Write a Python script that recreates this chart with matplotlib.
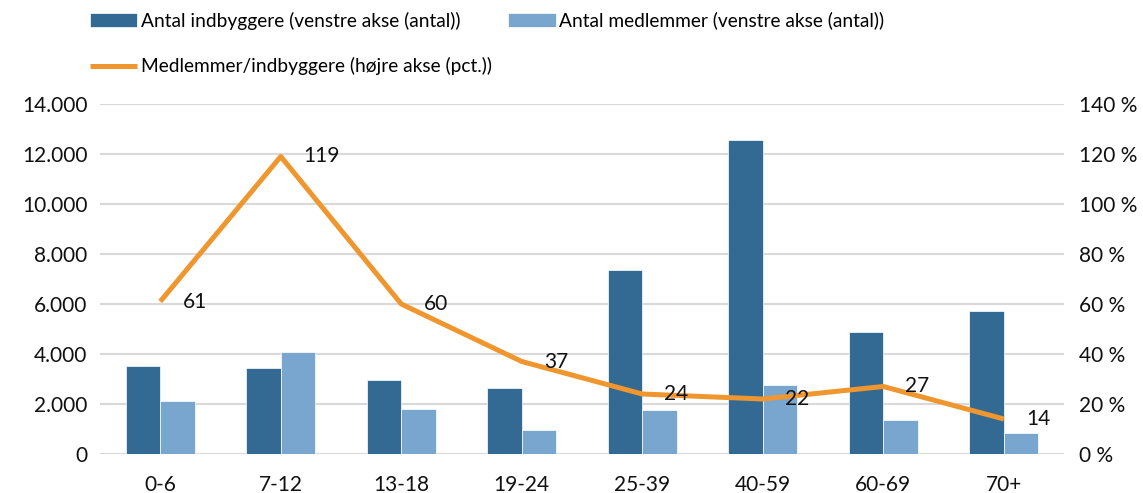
import matplotlib.pyplot as plt
import numpy as np
from matplotlib.ticker import FuncFormatter

plt.rcParams["font.family"] = ["Lato", "DejaVu Sans"]

categories = ["0-6", "7-12", "13-18", "19-24", "25-39", "40-59", "60-69", "70+"]
indbyggere = [3520, 3440, 2960, 2640, 7360, 12560, 4880, 5720]
medlemmer = [2120, 4080, 1800, 960, 1760, 2760, 1360, 840]
andel_pct = [61, 119, 60, 37, 24, 22, 27, 14]

DARK = "#336A93"
LIGHT = "#79A6CF"
ORANGE = "#F0962F"
GRID = "#D9D9D9"
TEXT = "#111111"

fig = plt.figure(figsize=(11.43, 4.93), dpi=100)
ax = fig.add_axes([100 / 1143, 1 - 454 / 493, 964 / 1143, 350 / 493])
ax2 = ax.twinx()

x = np.arange(len(categories))
w = 0.285
b1 = ax.bar(x - w / 2, indbyggere, w, color=DARK, edgecolor="white", linewidth=0.5, zorder=2,
            label="Antal indbyggere (venstre akse (antal))")
b2 = ax.bar(x + w / 2, medlemmer, w, color=LIGHT, edgecolor="white", linewidth=0.5, zorder=2,
            label="Antal medlemmer (venstre akse (antal))")

ax.set_xlim(-0.5, len(categories) - 0.5)
ax.set_ylim(0, 14000)
ax.set_yticks(np.arange(0, 14001, 2000))
ax.yaxis.set_major_formatter(FuncFormatter(lambda v, _: f"{int(v):,}".replace(",", ".")))
ax.set_xticks(x)
ax.set_xticklabels(categories)
ax.grid(axis="y", color=GRID, linewidth=1.5, zorder=0)
ax.set_axisbelow(True)

line, = ax2.plot(x, andel_pct, color=ORANGE, linewidth=3.6, solid_capstyle="butt", zorder=3,
                 label="Medlemmer/indbyggere (højre akse (pct.))")
ax2.set_ylim(0, 140)
ax2.set_yticks(np.arange(0, 141, 20))
ax2.yaxis.set_major_formatter(FuncFormatter(lambda v, _: f"{int(v)} %"))
for xi, v in zip(x, andel_pct):
    ax2.annotate(f"{v}", (xi, v), xytext=(16, 0), textcoords="offset points",
                 va="center", ha="left", fontsize=15, color=TEXT)

for a in (ax, ax2):
    for s in a.spines.values():
        s.set_visible(False)
    a.tick_params(length=0, labelsize=15, colors=TEXT)
ax.tick_params(axis="x", pad=15)
ax.tick_params(axis="y", pad=9)
ax2.tick_params(axis="y", pad=11)

fig.legend(handles=[b1, line, b2], ncol=2, loc="upper left", bbox_to_anchor=(78 / 1143, 1.0),
           frameon=False, fontsize=13.8, handlelength=2.5, handletextpad=0.2,
           columnspacing=0.8, labelspacing=1.45, borderaxespad=0.2)

fig.savefig("out.png", dpi=100, facecolor="white")
